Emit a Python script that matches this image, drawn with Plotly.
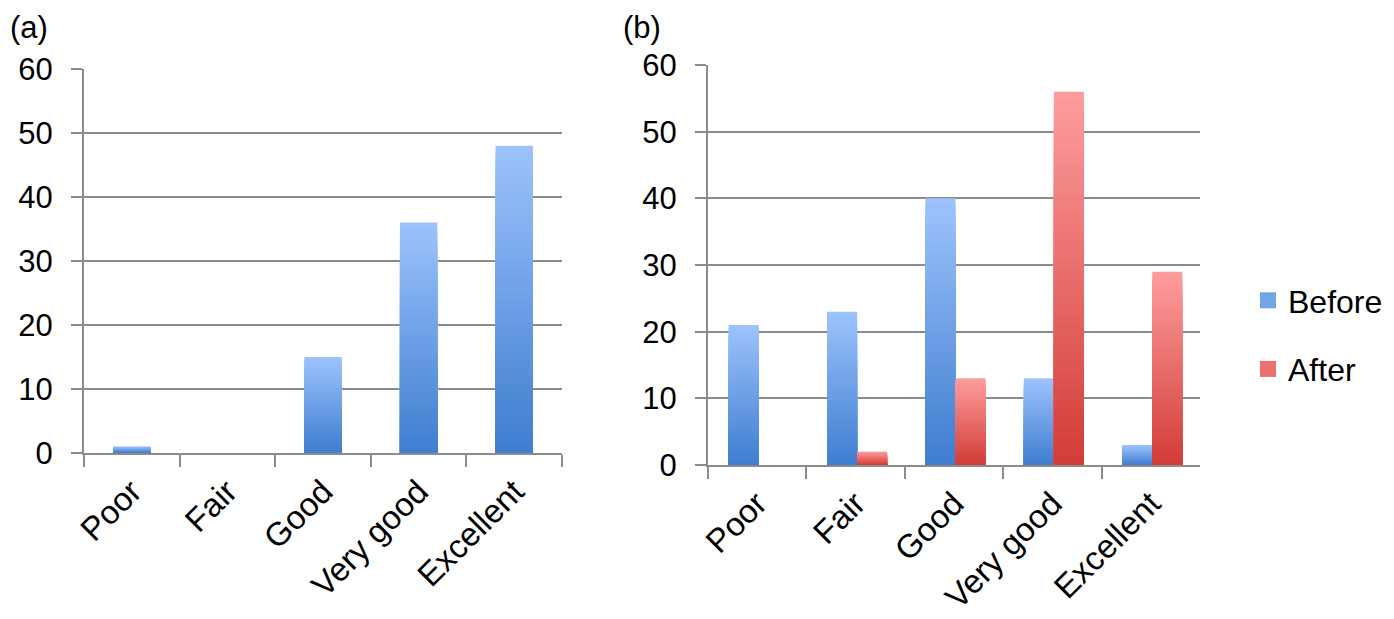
import plotly.graph_objects as go

categories = ["Poor", "Fair", "Good", "Very good", "Excellent"]
a_values = [1, 0, 15, 36, 48]
b_before = [21, 23, 40, 13, 3]
b_after = [0, 2, 13, 56, 29]
y_ticks = [0, 10, 20, 30, 40, 50, 60]
series_names = ["Before", "After"]

BLUE_TOP = (157, 195, 252)
BLUE_BOT = (62, 125, 207)
RED_TOP = (254, 157, 157)
RED_BOT = (210, 60, 55)
N = 40
FONT = "Liberation Sans, Arial, Helvetica, sans-serif"
GRID = "#8c8c8c"

W, H = 1394, 619
OX, OY = 8, 8  # page body offset


def px(x):
    return (x - OX) / W


def py(y):
    return (H - (y - OY)) / H


def mix(c1, c2, t):
    return "rgb(%d,%d,%d)" % tuple(round(a + (b - a) * t) for a, b in zip(c1, c2))


fig = go.Figure()


def gradient_bars(values, xaxis, yaxis, top, bot, width, offset, name):
    # tallest (lightest) layer first, shorter darker layers over it -> vertical gradient
    for k in range(N - 1, -1, -1):
        t = (k + 0.5) / N
        fig.add_trace(go.Bar(
            x=categories,
            y=[v * (k + 1) / N for v in values],
            width=width,
            offset=offset,
            marker=dict(color=mix(bot, top, t), line=dict(width=0)),
            xaxis=xaxis, yaxis=yaxis,
            name=name, legendgroup=name,
            showlegend=False,
            hoverinfo="skip",
        ))


gradient_bars(a_values, "x", "y", BLUE_TOP, BLUE_BOT, 0.39, -0.195, "Before")
gradient_bars(b_before, "x2", "y2", BLUE_TOP, BLUE_BOT, 0.305, -0.29, "Before")
gradient_bars(b_after, "x2", "y2", RED_TOP, RED_BOT, 0.305, 0.015, "After")

# legend-only entries (square swatches)
for name, top, bot in [(series_names[0], BLUE_TOP, BLUE_BOT), (series_names[1], RED_TOP, RED_BOT)]:
    fig.add_trace(go.Scatter(
        x=[None], y=[None], mode="markers", xaxis="x2", yaxis="y2",
        marker=dict(symbol="square", size=20, color=mix(bot, top, 0.55)),
        name=name, legendgroup=name, showlegend=True, hoverinfo="skip",
    ))

xcommon = dict(
    type="category", categoryorder="array", categoryarray=categories,
    showgrid=False, showline=True, linecolor=GRID, linewidth=2,
    ticks="outside", tickson="boundaries", ticklen=12, tickcolor=GRID, tickwidth=2,
    tickangle=-45, tickfont=dict(family=FONT, size=33, color="black"),
    ticklabelstandoff=4, automargin=False, fixedrange=True,
)
ycommon = dict(
    range=[0, 60], tickvals=y_ticks, showgrid=True, gridcolor=GRID, gridwidth=2,
    showline=True, linecolor=GRID, linewidth=2, zeroline=False,
    ticks="outside", ticklen=11, tickcolor=GRID, tickwidth=2,
    tickfont=dict(family=FONT, size=31, color="black"),
    ticklabelstandoff=12, automargin=False, fixedrange=True,
)

fig.update_layout(
    width=W, height=H,
    margin=dict(l=0, r=0, t=0, b=0, pad=0, autoexpand=False),
    paper_bgcolor="white", plot_bgcolor="white",
    barmode="overlay",
    font=dict(family=FONT, size=31, color="black"),
    xaxis=dict(domain=[px(84), px(562)], anchor="y", **xcommon),
    yaxis=dict(domain=[py(453), py(69)], anchor="x", **ycommon),
    xaxis2=dict(domain=[px(708), px(1200)], anchor="y2", **xcommon),
    yaxis2=dict(domain=[py(465), py(65)], anchor="x2", **ycommon),
    legend=dict(
        x=px(1248), y=py(273), xanchor="left", yanchor="top",
        font=dict(family=FONT, size=32, color="black"),
        itemsizing="trace",
        traceorder="grouped", tracegroupgap=24, bgcolor="rgba(0,0,0,0)",
    ),
    annotations=[
        dict(text="(a)", x=0, y=1, xref="paper", yref="paper", xanchor="left", yanchor="top",
             showarrow=False, font=dict(family=FONT, size=31, color="black")),
        dict(text="(b)", x=px(621), y=1, xref="paper", yref="paper", xanchor="left", yanchor="top",
             showarrow=False, font=dict(family=FONT, size=31, color="black")),
    ],
)

fig.write_html("out.html")
